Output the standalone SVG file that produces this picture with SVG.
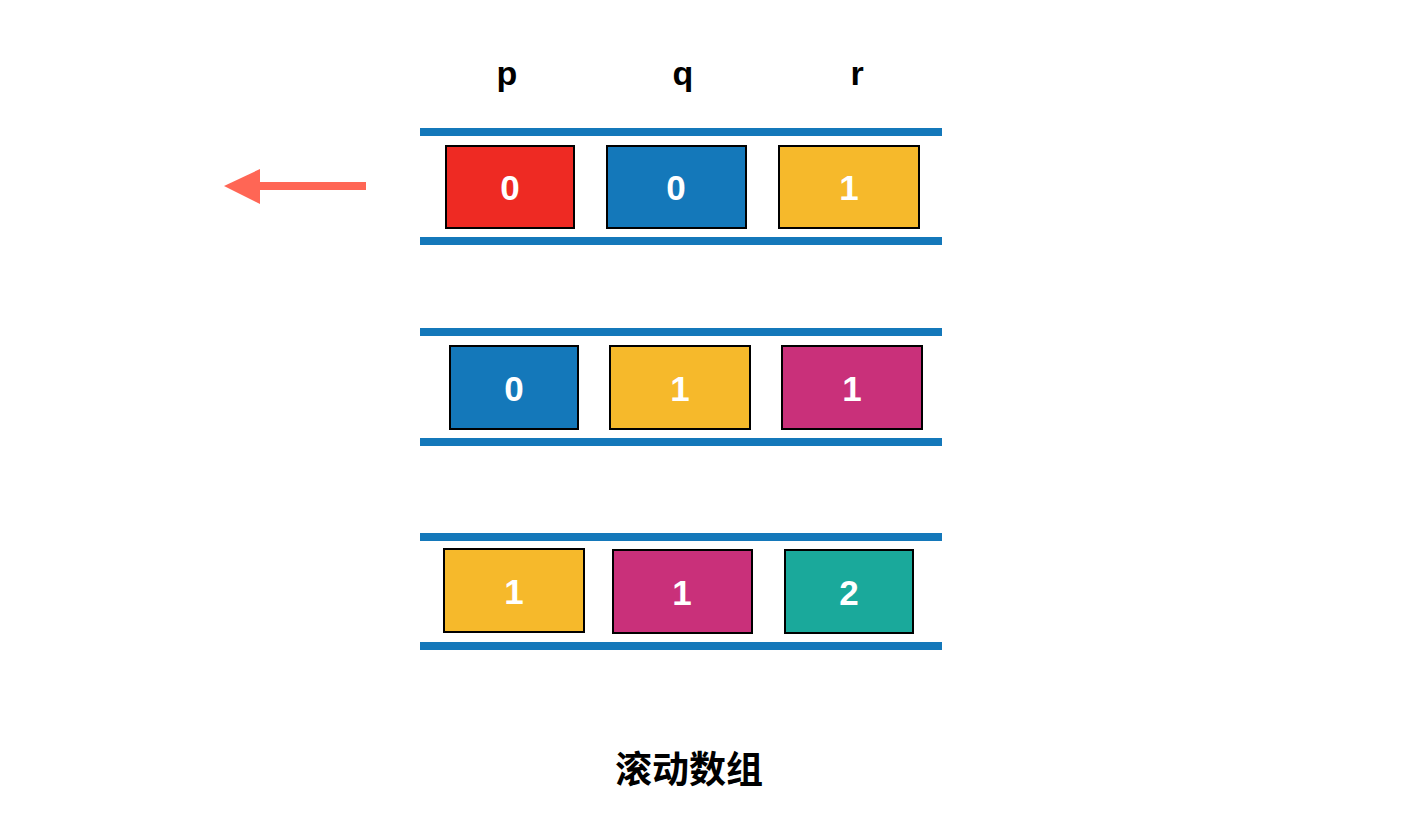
<svg xmlns="http://www.w3.org/2000/svg" width="1402" height="838" viewBox="0 0 1402 838">
<style>
.bar{fill:#1478BA}
.box{stroke:#000;stroke-width:2}
.num{font-family:"Liberation Sans",Arial,sans-serif;font-weight:bold;font-size:35px;fill:#fff;text-anchor:middle}
.lbl{font-family:"Liberation Sans",Arial,sans-serif;font-weight:bold;font-size:34px;fill:#000;text-anchor:middle}
.title{font-family:"Liberation Sans","Noto Sans CJK SC",sans-serif;font-weight:bold;font-size:37px;fill:#000;text-anchor:middle}
</style>
<rect width="1402" height="838" fill="#fff"/>
<g id="labels">
<text class="lbl" x="507" y="85">p</text>
<text class="lbl" x="683" y="85">q</text>
<text class="lbl" x="857" y="85">r</text>
</g>
<g id="row1">
<rect class="bar" x="420" y="128" width="522" height="8"/>
<rect class="bar" x="420" y="237" width="522" height="8"/>
<g id="r1a"><rect class="box" x="446" y="146" width="128" height="82" fill="#EE2A23"/><text class="num" x="510" y="200">0</text></g>
<g id="r1b"><rect class="box" x="607" y="146" width="139" height="82" fill="#1478BA"/><text class="num" x="676" y="200">0</text></g>
<g id="r1c"><rect class="box" x="779" y="146" width="140" height="82" fill="#F6B92B"/><text class="num" x="849" y="200">1</text></g>
</g>
<g id="row2">
<rect class="bar" x="420" y="328" width="522" height="8"/>
<rect class="bar" x="420" y="438" width="522" height="8"/>
<g id="r2a"><rect class="box" x="450" y="346" width="128" height="83" fill="#1478BA"/><text class="num" x="514" y="401">0</text></g>
<g id="r2b"><rect class="box" x="610" y="346" width="140" height="83" fill="#F6B92B"/><text class="num" x="680" y="401">1</text></g>
<g id="r2c"><rect class="box" x="782" y="346" width="140" height="83" fill="#C9307A"/><text class="num" x="852" y="401">1</text></g>
</g>
<g id="row3">
<rect class="bar" x="420" y="533" width="522" height="8"/>
<rect class="bar" x="420" y="642" width="522" height="8"/>
<g id="r3a"><rect class="box" x="444" y="549" width="140" height="83" fill="#F6B92B"/><text class="num" x="514" y="604">1</text></g>
<g id="r3b"><rect class="box" x="613" y="550" width="139" height="83" fill="#C9307A"/><text class="num" x="682" y="605">1</text></g>
<g id="r3c"><rect class="box" x="785" y="550" width="128" height="83" fill="#1AA99B"/><text class="num" x="849" y="605">2</text></g>
</g>
<g id="connectors">
<line x1="366" y1="186" x2="256" y2="186" stroke="#FF6655" stroke-width="8"/>
<polygon points="224,186 260,169 260,204" fill="#FF6655"/>
</g>
<g id="title"><text class="title" x="689" y="783">滚动数组</text></g>
</svg>
